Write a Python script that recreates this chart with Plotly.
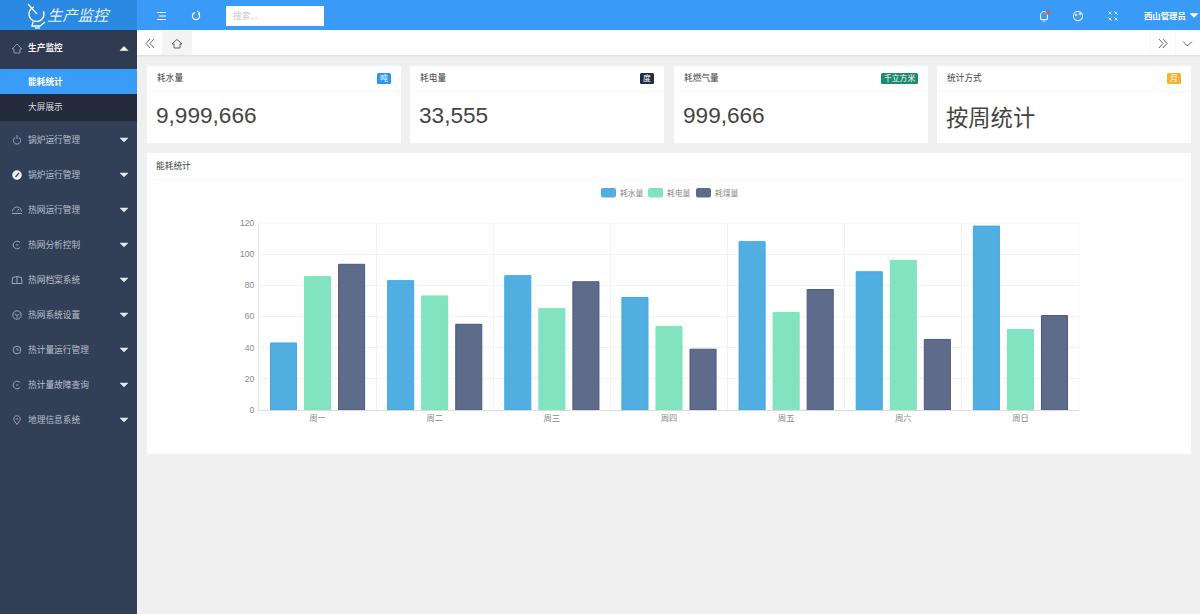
import math
import plotly.graph_objects as go

W, H = 1200, 614
CJK = "Noto Sans CJK SC"

# dados do grafico
dias = ["周一", "周二", "周三", "周四", "周五", "周六", "周日"]
agua = [43, 83, 86.2, 72.2, 108, 88.7, 118]
eletricidade = [85.6, 73.2, 65, 53.7, 62.6, 96, 51.6]
carvao = [93.5, 55, 82.3, 39, 77.3, 45.3, 60.6]
series_nomes = ["耗水量", "耗电量", "耗煤量"]
series_cores = ["#50aee0", "#82e3c1", "#5f6b8b"]
series_bordas = ["#43a7e3", "#7ce4bd", "#4c5880"]
y_ticks = [0, 20, 40, 60, 80, 100, 120]

# textos do painel
menu_itens = ["锅炉运行管理", "锅炉运行管理", "热网运行管理", "热网分析控制", "热网档案系统",
              "热网系统设置", "热计量运行管理", "热计量故障查询", "地理信息系统"]
card_titulos = ["耗水量", "耗电量", "耗燃气量", "统计方式"]
card_valores = ["9,999,666", "33,555", "999,666", "按周统计"]
card_badges = ["吨", "度", "千立方米", "月"]
card_badge_cores = ["#2d96f3", "#232c42", "#1f8a70", "#f6b233"]

shapes = []
annotations = []


def px(x):
    return x / W


def py(y):
    return 1 - y / H


def rect(x0, y0, x1, y1, cor, linha=None):
    shapes.append(dict(type="rect", xref="paper", yref="paper", layer="below",
                       x0=px(x0), x1=px(x1), y0=py(y0), y1=py(y1), fillcolor=cor,
                       line=dict(color=linha or cor, width=1 if linha else 0)))


def rect_redondo(x0, y0, x1, y1, cor, r=1.5):
    # retangulo com cantos arredondados para legenda e etiquetas
    d = (f"M{px(x0 + r)},{py(y0)} L{px(x1 - r)},{py(y0)} Q{px(x1)},{py(y0)} {px(x1)},{py(y0 + r)} "
         f"L{px(x1)},{py(y1 - r)} Q{px(x1)},{py(y1)} {px(x1 - r)},{py(y1)} "
         f"L{px(x0 + r)},{py(y1)} Q{px(x0)},{py(y1)} {px(x0)},{py(y1 - r)} "
         f"L{px(x0)},{py(y0 + r)} Q{px(x0)},{py(y0)} {px(x0 + r)},{py(y0)} Z")
    shapes.append(dict(type="path", xref="paper", yref="paper", layer="below", path=d,
                       fillcolor=cor, line=dict(color=cor, width=0)))


def polilinha(pontos, cor, largura=1.0, fechar=False, preencher=False):
    # desenha icones simples com path em coordenadas de papel
    d = "M" + " L".join(f"{px(x):.5f},{py(y):.5f}" for x, y in pontos)
    if fechar:
        d += " Z"
    shapes.append(dict(type="path", xref="paper", yref="paper", layer="below", path=d,
                       fillcolor=cor if preencher else "rgba(0,0,0,0)",
                       line=dict(color=cor, width=largura)))


def arco(cx, cy, r, a0, a1, cor, largura=1.0):
    # arco aberto, angulos em graus
    passos = 16
    pontos = []
    for i in range(passos + 1):
        a = math.radians(a0 + (a1 - a0) * i / passos)
        pontos.append((cx + r * math.cos(a), cy + r * math.sin(a)))
    polilinha(pontos, cor, largura)


def circulo(cx, cy, r, cor, largura=1.0, preencher=False):
    shapes.append(dict(type="circle", xref="paper", yref="paper", layer="below",
                       x0=px(cx - r), x1=px(cx + r), y0=py(cy + r), y1=py(cy - r),
                       fillcolor=cor if preencher else "rgba(0,0,0,0)",
                       line=dict(color=cor, width=largura)))


def texto(x, y, s, cor="#333333", tam=8.7, anchor="left", fonte=CJK):
    # a anotacao tem um recuo de 1px, compensado aqui
    dx = -1 if anchor == "left" else 0
    annotations.append(dict(xref="paper", yref="paper", x=px(x + dx), y=py(y - 0.7), text=s, showarrow=False,
                            xanchor=anchor, yanchor="middle", borderpad=0, align=anchor,
                            font=dict(family=fonte, size=tam, color=cor)))


def seta_baixo(cx, cy, cor="#e4e7ee"):
    polilinha([(cx - 4, cy - 2), (cx + 4, cy - 2), (cx, cy + 2)], cor, 0.5, True, True)


def seta_cima(cx, cy, cor="#ffffff"):
    polilinha([(cx - 4, cy + 2), (cx + 4, cy + 2), (cx, cy - 2)], cor, 0.5, True, True)


def icone_menu(i, x, y):
    # um icone pequeno para cada item do menu
    cor = "#aab1c0"
    if i == 0:
        arco(x, y + 0.5, 3.6, -60, 240, cor, 0.9)
        polilinha([(x, y - 5), (x, y - 1)], cor, 0.9)
    elif i == 1:
        circulo(x, y, 4.5, "#eef0f4", 0.5, True)
        polilinha([(x - 1.5, y + 2), (x + 2, y - 2)], "#333f57", 1.2)
    elif i == 2:
        arco(x, y + 1.5, 4.5, 180, 360, cor, 0.9)
        polilinha([(x - 5, y + 3.5), (x + 5, y + 3.5)], cor, 0.9)
        polilinha([(x, y + 1.5), (x + 2, y - 1)], cor, 0.9)
    elif i in (3, 7):
        arco(x, y, 3.8, 40, 320, cor, 0.9)
        polilinha([(x - 0.8, y), (x + 1.2, y)], cor, 0.9)
    elif i == 4:
        polilinha([(x - 5, y + 3.5), (x - 4.5, y - 2.5), (x, y - 3.5), (x + 4.5, y - 2.5), (x + 5, y + 3.5)], cor, 0.9)
        polilinha([(x - 5, y + 3.5), (x + 5, y + 3.5)], cor, 0.9)
        polilinha([(x, y - 3.5), (x, y + 3.5)], cor, 0.9)
    elif i == 5:
        circulo(x, y, 4.2, cor, 0.9)
        polilinha([(x - 2.5, y - 1), (x, y + 0.5), (x + 2.5, y - 1)], cor, 0.8)
        polilinha([(x, y + 0.5), (x, y + 3)], cor, 0.8)
    elif i == 6:
        circulo(x, y, 3.8, cor, 0.9)
        polilinha([(x, y - 2), (x, y), (x + 2, y)], cor, 0.8)
    else:
        arco(x, y - 1, 3.2, 150, 390, cor, 0.9)
        polilinha([(x - 2.8, y + 0.6), (x, y + 4.5), (x + 2.8, y + 0.6)], cor, 0.9)
        circulo(x, y - 1, 0.8, cor, 0.5)


# fundos
rect(0, 0, W, H, "#f0f0f0")
rect(0, 0, W, 30, "#399bf7")
rect(0, 0, 137, 30, "#2a89e2")
rect(0, 30, 137, H, "#333f57")
rect(0, 30, 137, 69, "#303b52")
rect(0, 69, 137, 94, "#399cf8")
rect(0, 94, 137, 121, "#232a3b")
rect(137, 30, W, 56, "#ffffff")
rect(137, 55, W, 56.5, "#e2e2e2")
rect(162, 31, 192, 55, "#f4f4f4")
rect(1150, 31, 1150.6, 55, "#f0f0f0")
rect(1175, 31, 1175.6, 55, "#f0f0f0")

# logo e cabecalho
arco(36.5, 14, 7.5, -20, 250, "#ffffff", 1.4)
polilinha([(28, 4), (37, 14)], "#ffffff", 1.2)
polilinha([(33, 22), (32, 26), (40, 26), (45, 22)], "#ffffff", 1.3)
polilinha([(35, 28), (40, 28)], "#ffffff", 1.3)
texto(47, 15, "<i>生产监控</i>", "#e8f3fd", 15.3)
for y, x0 in [(12.5, 157), (16, 159), (19.5, 157)]:
    polilinha([(x0, y), (166, y)], "#ffffff", 1.0)
arco(196, 16, 3.6, -50, 250, "#ffffff", 1.2)
polilinha([(197, 11), (200, 13), (198, 14.5)], "#ffffff", 1.0)
rect(226, 6, 324, 26, "#ffffff")
texto(233, 16, "搜索...", "#c6c6c6", 8.7)
arco(1044, 15, 3.4, 180, 360, "#ffffff", 1.0)
polilinha([(1040.6, 15), (1040.6, 19.5), (1047.4, 19.5), (1047.4, 15)], "#ffffff", 1.0)
polilinha([(1042.5, 21), (1045.5, 21)], "#ffffff", 0.9)
circulo(1048, 12.5, 1.8, "#f0562a", 0.5, True)
circulo(1078, 16, 4.6, "#dcecfd", 1.1)
circulo(1076, 15, 1, "#dcecfd", 0.5, True)
circulo(1080, 14, 1, "#dcecfd", 0.5, True)
for x, y in [(1110, 13), (1116, 13), (1110, 19), (1116, 19)]:
    polilinha([(x - 1.5, y - 1.5), (x + 1.5, y + 1.5)], "#ffffff", 1.0)
    polilinha([(x - 1.5, y + 1.5), (x + 1.5, y - 1.5)], "#ffffff", 0.6)
texto(1144, 16, "<b>西山管理员</b>", "#ffffff", 8.4)
seta_baixo(1194, 15.5, "#ffffff")

# abas
polilinha([(150, 39), (146, 43.5), (150, 48)], "#555555", 0.9)
polilinha([(154, 39), (150, 43.5), (154, 48)], "#555555", 0.9)
polilinha([(172, 44), (177, 39.5), (182, 44), (180, 44), (180, 48), (174, 48), (174, 44)], "#555555", 0.9, True)
polilinha([(1159, 39), (1163, 43.5), (1159, 48)], "#555555", 0.9)
polilinha([(1163, 39), (1167, 43.5), (1163, 48)], "#555555", 0.9)
polilinha([(1183, 41.5), (1187.5, 46), (1192, 41.5)], "#555555", 0.9)

# menu lateral
polilinha([(12, 49), (17, 44), (22, 49), (20, 49), (20, 53), (14, 53), (14, 49)], "#a9b0bf", 0.8, True)
texto(28, 48.5, "<b>生产监控</b>", "#f2f3f5", 8.7)
seta_cima(124, 48.5)
texto(28, 82, "<b>能耗统计</b>", "#ffffff", 8.7)
texto(28, 107, "大屏展示", "#d7dae1", 8.7)
for i, nome in enumerate(menu_itens):
    y = 140 + 35 * i
    icone_menu(i, 17, y)
    texto(28, y, nome, "#b9bfcb", 8.7)
    seta_baixo(124, y)

# cartoes
card_x = [147, 410, 674, 937]
card_w = 254
for i, x in enumerate(card_x):
    rect(x, 66, x + card_w, 143, "#ffffff")
    rect(x, 91, x + card_w, 91.6, "#f3f3f3")
    texto(x + 9.5, 78.5, card_titulos[i], "#444444", 8.7)
    if i < 3:
        texto(x + 9, 116.5, card_valores[i], "#444444", 22.6, fonte="Liberation Sans")
    else:
        texto(x + 9, 116.5, card_valores[i], "#444444", 22.3)
    largura = 14 if len(card_badges[i]) == 1 else 37
    rect_redondo(x + card_w - 10 - largura, 73, x + card_w - 10, 84, card_badge_cores[i])
    texto(x + card_w - 10 - largura / 2, 78.5, card_badges[i], "#ffffff", 7.8, "center")

# painel do grafico
rect(147, 153, 1191, 454, "#ffffff")
rect(147, 179, 1191, 179.6, "#f5f5f5")
texto(156, 166, "能耗统计", "#444444", 8.7)
rect(259, 223, 1079, 223.6, "#f2f2f2")
rect(1078.6, 223, 1079.2, 410, "#f2f2f2")

# legenda
legenda_x = [601, 648, 696]
for nome, cor, x in zip(series_nomes, series_cores, legenda_x):
    rect_redondo(x, 188, x + 15, 197.5, cor, 2)
    texto(x + 18.5, 193, nome, "#888888", 7.8)

fig = go.Figure()
for nome, valores, cor, borda in zip(series_nomes, [agua, eletricidade, carvao], series_cores, series_bordas):
    fig.add_trace(go.Bar(x=dias, y=valores, name=nome,
                         marker=dict(color=cor, line=dict(color=borda, width=1))))

fig.update_layout(
    width=W, height=H,
    margin=dict(l=0, r=0, t=0, b=0, pad=0),
    paper_bgcolor="#f0f0f0",
    plot_bgcolor="rgba(0,0,0,0)",
    barmode="group",
    bargap=0.128,
    bargroupgap=0.235,
    showlegend=False,
    shapes=shapes,
    annotations=annotations,
    font=dict(family=CJK, size=8.5, color="#888888"),
    xaxis=dict(domain=[px(259), px(1079)], anchor="y", tickson="boundaries", showgrid=True, automargin=False,
               gridcolor="#f2f2f2", gridwidth=1, showline=True, linecolor="#dcdcdc", linewidth=1,
               ticks="", tickfont=dict(size=8.3, color="#888888"), fixedrange=True),
    yaxis=dict(domain=[py(410), py(223)], anchor="x", range=[0, 120], tickvals=y_ticks, showgrid=True, automargin=False,
               gridcolor="#f2f2f2", gridwidth=1, showline=True, linecolor="#e4e4e4", linewidth=1,
               ticks="outside", ticklen=2, tickcolor="#ffffff", zeroline=False,
               tickfont=dict(family="Liberation Sans", size=8.5, color="#888888"), fixedrange=True),
)

fig.write_html("out.html", config={"displayModeBar": False},
               post_script="document.body.style.margin='0';document.body.style.overflow='hidden';")
